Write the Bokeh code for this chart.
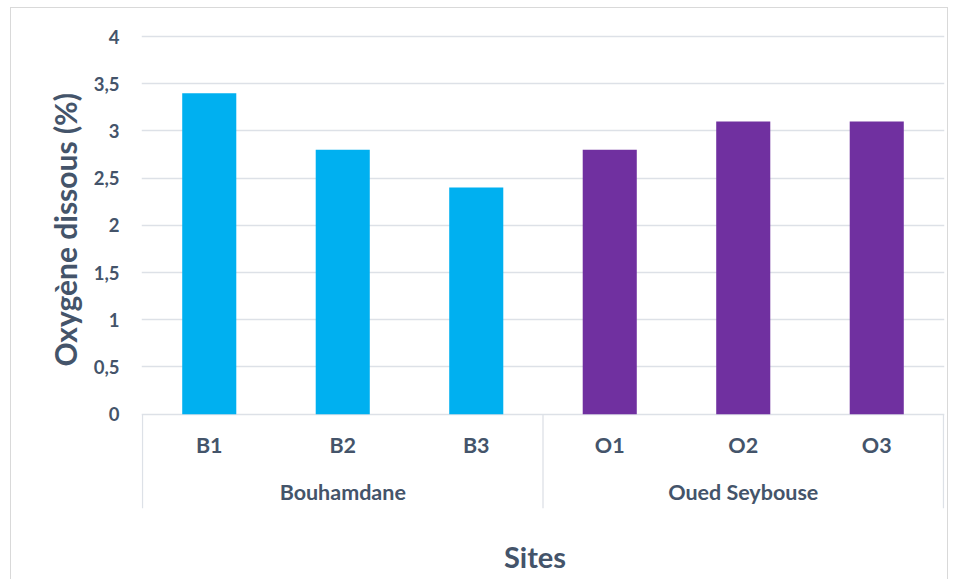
import math
from bokeh.plotting import figure
from bokeh.models import (ColumnDataSource, Range1d, FixedTicker, CustomJSTickFormatter, Title)
from bokeh.core.properties import value
from bokeh.embed import file_html
from bokeh.resources import INLINE

# ---- data ----
sites = ["B1", "B2", "B3", "O1", "O2", "O3"]
groups = ["Bouhamdane", "Oued Seybouse"]
group_of_site = ["Bouhamdane", "Bouhamdane", "Bouhamdane",
                 "Oued Seybouse", "Oued Seybouse", "Oued Seybouse"]
oxygen = [3.4, 2.8, 2.4, 2.8, 3.1, 3.1]
y_ticks = [0, 0.5, 1, 1.5, 2, 2.5, 3, 3.5, 4]
y_title = "Oxygène dissous (%)"
x_title = "Sites"

group_colors = {"Bouhamdane": "#00B0F0", "Oued Seybouse": "#7030A0"}
TXT = "#44546A"
GRID = "#DDE1E7"
FONT = value("Lato")

n = len(sites)
xs = [i + 0.5 for i in range(n)]
src = ColumnDataSource(dict(x=xs, top=oxygen, site=sites,
                            color=[group_colors[g] for g in group_of_site]))

px_per_unit = 94.25
y_top = 4 + 2 / px_per_unit
y_bot = -166 / px_per_unit
edge = 1 / 133.17

p = figure(width=938, height=572, output_backend="svg", toolbar_location=None,
           x_range=Range1d(-edge, n + edge), y_range=Range1d(y_bot, y_top),
           x_axis_location=None,
           min_border_left=130, min_border_right=5, min_border_top=26, min_border_bottom=0)
p.margin = (7, 0, 0, 10)
p.styles = {"border-top": "1px solid #D9D9D9", "border-left": "1px solid #D9D9D9",
            "border-right": "1px solid #D9D9D9"}
p.outline_line_color = None
p.background_fill_color = "white"
p.border_fill_color = "white"

# y axis
ax = p.yaxis[0]
ax.ticker = FixedTicker(ticks=y_ticks)
ax.formatter = CustomJSTickFormatter(code="return tick.toString().replace('.', ',');")
ax.axis_line_color = None
ax.major_tick_line_color = None
ax.minor_tick_line_color = None
ax.major_tick_in = 0
ax.major_tick_out = 0
ax.major_label_standoff = 22
ax.major_label_text_font = "Lato"
ax.major_label_text_font_style = "bold"
ax.major_label_text_font_size = "18.5px"
ax.major_label_text_color = TXT

p.xgrid.visible = False
p.ygrid.ticker = FixedTicker(ticks=y_ticks)
p.ygrid.grid_line_color = GRID
p.ygrid.grid_line_width = 1.3

# bars
p.vbar(x="x", top="top", width=0.405, bottom=0, fill_color="color", line_color=None, source=src)

# category separators (at group boundaries)
n_per_group = [group_of_site.count(g) for g in groups]
bounds = [0]
for c in n_per_group:
    bounds.append(bounds[-1] + c)
sep_bottom = -94 / px_per_unit
p.segment(x0=bounds, y0=[0] * len(bounds), x1=bounds, y1=[sep_bottom] * len(bounds),
          line_color=GRID, line_width=1.3)

# category labels
p.text(x=xs, y=[-31 / px_per_unit] * n, text=sites, text_align="center", text_baseline="middle",
       text_font=FONT, text_font_style="bold", text_font_size="21.5px", text_color=TXT)
gx = [(bounds[i] + bounds[i + 1]) / 2 for i in range(len(groups))]
p.text(x=gx, y=[-78 / px_per_unit] * len(groups), text=groups, text_align="center",
       text_baseline="middle", text_font=FONT, text_font_style="bold", text_font_size="21.5px",
       text_color=TXT)

# axis titles
p.text(x=[2.94], y=[-142 / px_per_unit], text=[x_title], text_align="center", text_baseline="middle",
       text_font=FONT, text_font_style="bold", text_font_size="29px", text_color=TXT)
p.add_layout(Title(text=y_title, align="left", offset=214, standoff=15,
                   text_font="Lato", text_font_style="bold", text_font_size="30px",
                   text_color=TXT), "left")

open("out.html", "w").write(file_html(p, INLINE))
